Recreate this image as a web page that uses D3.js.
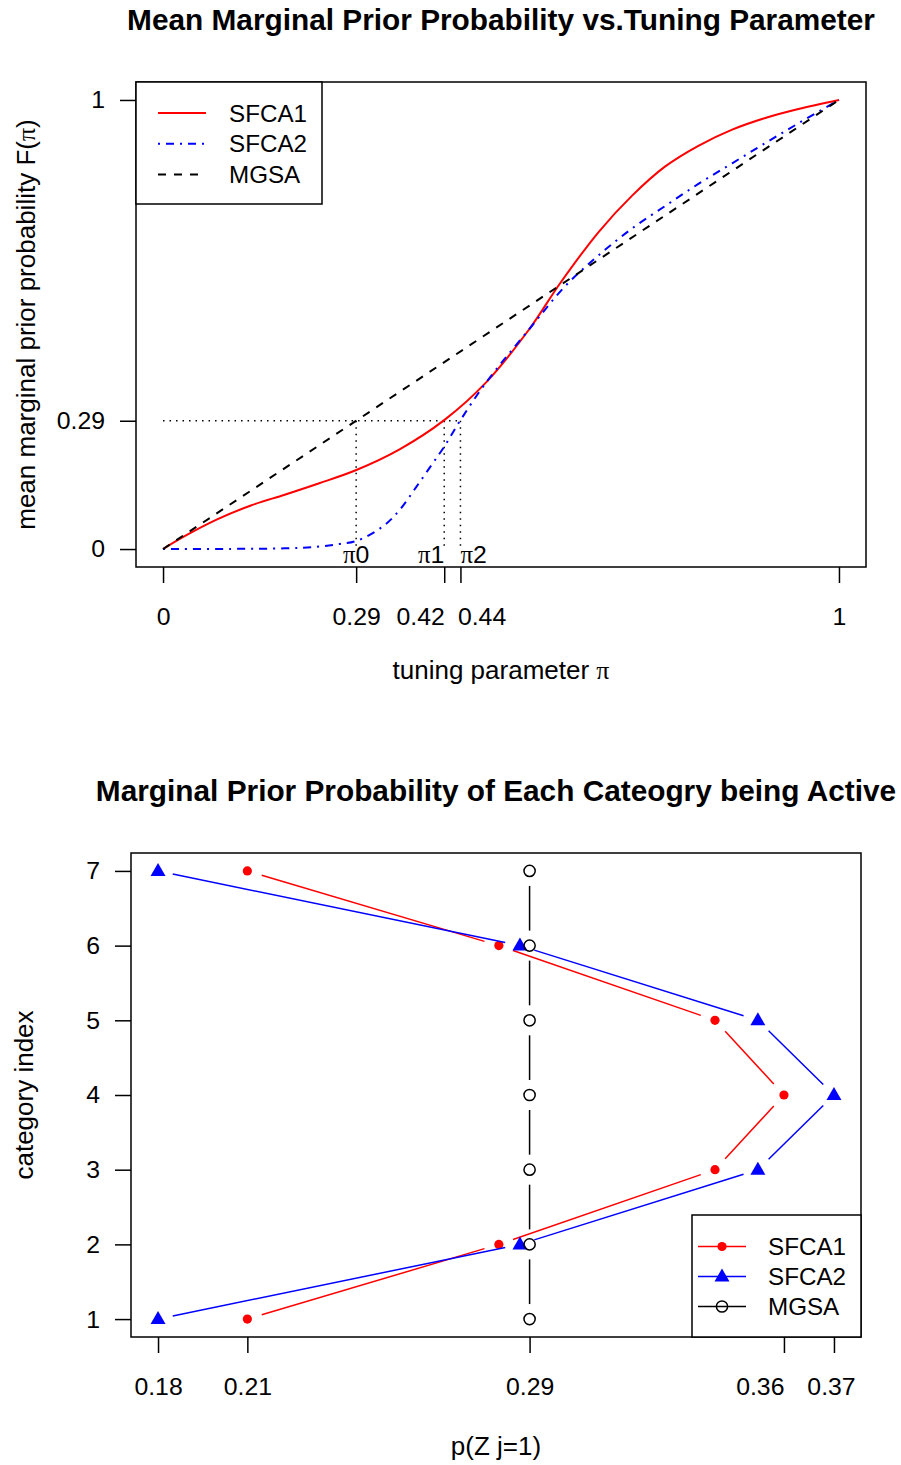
<!DOCTYPE html>
<html>
<head>
<meta charset="utf-8">
<script src="https://cdn.jsdelivr.net/npm/d3@7"></script>
<style>
  body { margin: 0; background: #fff; }
  svg { display: block; font-family: "Liberation Sans", Arial, sans-serif; }
</style>
</head>
<body>
<div id="chart"></div>
<script>
// ---- top panel data ----
var sfca1Pi = [0, 0.03, 0.08, 0.13, 0.18, 0.23, 0.286, 0.35, 0.416, 0.478, 0.542, 0.588, 0.645, 0.694, 0.743, 0.792, 0.842, 0.891, 0.94, 1];
var sfca1F  = [0, 0.027, 0.066, 0.097, 0.121, 0.146, 0.176, 0.222, 0.287, 0.371, 0.49, 0.593, 0.707, 0.787, 0.852, 0.898, 0.934, 0.96, 0.98, 1];
var sfca2Pi = [0, 0.1, 0.18, 0.227, 0.26, 0.286, 0.325, 0.35, 0.375, 0.399, 0.416, 0.44, 0.478, 0.542, 0.596, 0.645, 0.694, 0.743, 0.792, 0.842, 0.891, 0.94, 1];
var sfca2F  = [0, 0.0003, 0.0015, 0.005, 0.011, 0.018, 0.05, 0.087, 0.139, 0.191, 0.228, 0.287, 0.371, 0.49, 0.587, 0.655, 0.714, 0.764, 0.813, 0.859, 0.904, 0.948, 1];
var mgsaPi  = [0, 1];
var mgsaF   = [0, 1];
var fLevel = 0.2857;
var piCuts = [0.2857, 0.416, 0.44];
var piCutNames = ["0", "1", "2"];
var topXTicks = [0, 0.2857, 0.416, 0.44, 1];
var topXLabels = ["0", "0.29", "0.42", "0.44", "1"];
var topYTicks = [0, 0.2857, 1];
var topYLabels = ["0", "0.29", "1"];

// ---- bottom panel data ----
var categories = [1, 2, 3, 4, 5, 6, 7];
var sfca1Prob = [0.208, 0.2784, 0.3389, 0.3582, 0.3389, 0.2784, 0.208];
var sfca2Prob = [0.183, 0.2843, 0.3509, 0.3722, 0.3509, 0.2843, 0.183];
var mgsaProb  = [0.287, 0.287, 0.287, 0.287, 0.287, 0.287, 0.287];
var botXTicks = [0.183, 0.208, 0.287, 0.3582, 0.3722];
var botXLabels = ["0.18", "0.21", "0.29", "0.36", "0.37"];

var W = 901, H = 1465;
var svg = d3.select("#chart").append("svg")
    .attr("width", W)
    .attr("height", H);

// R style axis range: data range padded by 4% on each side
function rRange(lo, hi) {
    var pad = (hi - lo) * 0.04;
    return [lo - pad, hi + pad];
}

function styleAxis(g) {
    g.select(".domain").remove();
    g.selectAll("line").attr("stroke", "#000").attr("stroke-width", 1.5);
    g.selectAll("text").attr("fill", "#000").style("font-size", "24.8px")
        .style("font-family", "'Liberation Sans', Arial, sans-serif");
}

top_panel();
bottom_panel();

function top_panel() {
    var box = { left: 136, right: 866, top: 82, bottom: 567 };
    var x = d3.scaleLinear().domain(rRange(0, 1)).range([box.left, box.right]);
    var y = d3.scaleLinear().domain(rRange(0, 1)).range([box.bottom, box.top]);

    svg.append("text")
        .attr("x", (box.left + box.right) / 2)
        .attr("y", 30)
        .attr("text-anchor", "middle")
        .style("font-size", "29.8px")
        .style("font-weight", "bold")
        .text("Mean Marginal Prior Probability vs.Tuning Parameter");

    // dotted guide lines
    svg.append("line")
        .attr("x1", x(0)).attr("x2", x(piCuts[2]))
        .attr("y1", y(fLevel)).attr("y2", y(fLevel))
        .attr("stroke", "#000").attr("stroke-width", 1.5)
        .attr("stroke-dasharray", "1.5,5");
    svg.selectAll(".cut")
        .data(piCuts)
        .enter().append("line")
        .attr("class", "cut")
        .attr("x1", function (d) { return x(d); })
        .attr("x2", function (d) { return x(d); })
        .attr("y1", y(fLevel)).attr("y2", y(0))
        .attr("stroke", "#000").attr("stroke-width", 1.5)
        .attr("stroke-dasharray", "1.5,5");

    var series = [
        { name: "SFCA1", pi: sfca1Pi, f: sfca1F, color: "#ff0000", dash: null },
        { name: "SFCA2", pi: sfca2Pi, f: sfca2F, color: "#0000ff", dash: "2,6,8,6" },
        { name: "MGSA", pi: mgsaPi, f: mgsaF, color: "#000000", dash: "8,8" }
    ];

    var line = d3.line()
        .x(function (d) { return x(d[0]); })
        .y(function (d) { return y(d[1]); })
        .curve(d3.curveCatmullRom.alpha(0.5));

    series.forEach(function (s) {
        svg.append("path")
            .datum(d3.zip(s.pi, s.f))
            .attr("d", line)
            .attr("fill", "none")
            .attr("stroke", s.color)
            .attr("stroke-width", 2)
            .attr("stroke-dasharray", s.dash);
    });

    // pi labels at the cut points
    var anchors = ["middle", "end", "start"];
    svg.selectAll(".cutlab")
        .data(piCuts)
        .enter().append("text")
        .attr("class", "cutlab")
        .attr("x", function (d) { return x(d); })
        .attr("y", y(0) + 14)
        .attr("text-anchor", function (d, i) { return anchors[i]; })
        .style("font-size", "24.8px")
        .each(function (d, i) {
            var t = d3.select(this);
            t.append("tspan").style("font-family", "'Liberation Serif', serif").text("π");
            t.append("tspan").text(piCutNames[i]);
        });

    // box
    svg.append("rect")
        .attr("x", box.left).attr("y", box.top)
        .attr("width", box.right - box.left).attr("height", box.bottom - box.top)
        .attr("fill", "none").attr("stroke", "#000").attr("stroke-width", 1.5);

    var xAnchors = ["middle", "middle", "end", "start", "middle"];
    svg.append("g")
        .attr("transform", "translate(0," + box.bottom + ")")
        .call(d3.axisBottom(x).tickValues(topXTicks)
            .tickFormat(function (d, i) { return topXLabels[i]; })
            .tickSize(16).tickPadding(24))
        .call(styleAxis)
        .selectAll("text")
        .attr("text-anchor", function (d, i) { return xAnchors[i]; })
        .attr("dx", function (d, i) { return xAnchors[i] === "start" ? -3 : 0; });

    svg.append("g")
        .attr("transform", "translate(" + box.left + ",0)")
        .call(d3.axisLeft(y).tickValues(topYTicks)
            .tickFormat(function (d, i) { return topYLabels[i]; })
            .tickSize(16).tickPadding(15))
        .call(styleAxis);

    // axis titles
    var xl = svg.append("text")
        .attr("x", (box.left + box.right) / 2)
        .attr("y", 679)
        .attr("text-anchor", "middle")
        .style("font-size", "26px");
    xl.append("tspan").text("tuning parameter ");
    xl.append("tspan").style("font-family", "'Liberation Serif', serif").text("π");

    var yl = svg.append("text")
        .attr("transform", "translate(35," + (box.top + box.bottom) / 2 + ")rotate(-90)")
        .attr("text-anchor", "middle")
        .style("font-size", "26px");
    yl.append("tspan").text("mean marginal prior probability F(");
    yl.append("tspan").style("font-family", "'Liberation Serif', serif").text("π");
    yl.append("tspan").text(")");

    // legend
    var lg = svg.append("g").attr("transform", "translate(136,82)");
    lg.append("rect")
        .attr("width", 186).attr("height", 122)
        .attr("fill", "#fff").attr("stroke", "#000").attr("stroke-width", 1.5);
    series.forEach(function (s, i) {
        var yy = 31 + i * 30.7;
        lg.append("line")
            .attr("x1", 22).attr("x2", 70)
            .attr("y1", yy).attr("y2", yy)
            .attr("stroke", s.color).attr("stroke-width", 2)
            .attr("stroke-dasharray", s.dash);
        lg.append("text")
            .attr("x", 93).attr("y", yy + 8.6)
            .style("font-size", "24.2px")
            .text(s.name);
    });
}

function bottom_panel() {
    var box = { left: 131, right: 861, top: 853, bottom: 1337 };
    var allVals = sfca1Prob.concat(sfca2Prob, mgsaProb);
    var x = d3.scaleLinear().domain(rRange(d3.min(allVals), d3.max(allVals))).range([box.left, box.right]);
    var y = d3.scaleLinear().domain(rRange(1, 7)).range([box.bottom, box.top]);

    svg.append("text")
        .attr("x", (box.left + box.right) / 2)
        .attr("y", 801)
        .attr("text-anchor", "middle")
        .style("font-size", "29.8px")
        .style("font-weight", "bold")
        .text("Marginal Prior Probability of Each Cateogry being Active");

    var series = [
        { name: "SFCA1", vals: sfca1Prob, color: "#ff0000", pch: "dot" },
        { name: "SFCA2", vals: sfca2Prob, color: "#0000ff", pch: "tri" },
        { name: "MGSA", vals: mgsaProb, color: "#000000", pch: "open" }
    ];

    var gap = 15;
    function drawMarker(g, kind, cx, cy, color) {
        if (kind === "dot") {
            g.append("circle").attr("cx", cx).attr("cy", cy).attr("r", 4.6).attr("fill", color);
        } else if (kind === "tri") {
            g.append("path")
                .attr("d", "M" + cx + "," + (cy - 8) + "L" + (cx - 7.5) + "," + (cy + 5) + "L" + (cx + 7.5) + "," + (cy + 5) + "Z")
                .attr("fill", color);
        } else {
            g.append("circle").attr("cx", cx).attr("cy", cy).attr("r", 5.6)
                .attr("fill", "none").attr("stroke", color).attr("stroke-width", 1.5);
        }
    }

    series.forEach(function (s) {
        var pts = categories.map(function (c, i) { return [x(s.vals[i]), y(c)]; });
        var g = svg.append("g");
        // type = "b": segments stop short of the points
        d3.pairs(pts).forEach(function (p) {
            var dx = p[1][0] - p[0][0], dy = p[1][1] - p[0][1];
            var len = Math.sqrt(dx * dx + dy * dy);
            if (len <= 2 * gap) return;
            var ux = dx / len, uy = dy / len;
            g.append("line")
                .attr("x1", p[0][0] + ux * gap).attr("y1", p[0][1] + uy * gap)
                .attr("x2", p[1][0] - ux * gap).attr("y2", p[1][1] - uy * gap)
                .attr("stroke", s.color).attr("stroke-width", 1.5);
        });
        pts.forEach(function (p) { drawMarker(g, s.pch, p[0], p[1], s.color); });
    });

    svg.append("rect")
        .attr("x", box.left).attr("y", box.top)
        .attr("width", box.right - box.left).attr("height", box.bottom - box.top)
        .attr("fill", "none").attr("stroke", "#000").attr("stroke-width", 1.5);

    var xAnchors = ["middle", "middle", "middle", "end", "middle"];
    svg.append("g")
        .attr("transform", "translate(0," + box.bottom + ")")
        .call(d3.axisBottom(x).tickValues(botXTicks)
            .tickFormat(function (d, i) { return botXLabels[i]; })
            .tickSize(16).tickPadding(24))
        .call(styleAxis)
        .selectAll("text")
        .attr("text-anchor", function (d, i) { return xAnchors[i]; })
        .attr("dx", function (d, i) { return i === 4 ? -3 : 0; });

    svg.append("g")
        .attr("transform", "translate(" + box.left + ",0)")
        .call(d3.axisLeft(y).tickValues(categories)
            .tickFormat(d3.format("d"))
            .tickSize(16).tickPadding(15))
        .call(styleAxis);

    svg.append("text")
        .attr("x", (box.left + box.right) / 2)
        .attr("y", 1455)
        .attr("text-anchor", "middle")
        .style("font-size", "26px")
        .text("p(Z j=1)");

    svg.append("text")
        .attr("transform", "translate(33," + (box.top + box.bottom) / 2 + ")rotate(-90)")
        .attr("text-anchor", "middle")
        .style("font-size", "26px")
        .text("category index");

    // legend
    var lg = svg.append("g").attr("transform", "translate(692,1215)");
    lg.append("rect")
        .attr("width", 169).attr("height", 122)
        .attr("fill", "#fff").attr("stroke", "#000").attr("stroke-width", 1.5);
    series.forEach(function (s, i) {
        var yy = 31.5 + i * 30;
        lg.append("line")
            .attr("x1", 6).attr("x2", 54)
            .attr("y1", yy).attr("y2", yy)
            .attr("stroke", s.color).attr("stroke-width", 1.5);
        drawMarker(lg, s.pch, 30, yy, s.color);
        lg.append("text")
            .attr("x", 76).attr("y", yy + 8.6)
            .style("font-size", "24.2px")
            .text(s.name);
    });
}
</script>
</body>
</html>
